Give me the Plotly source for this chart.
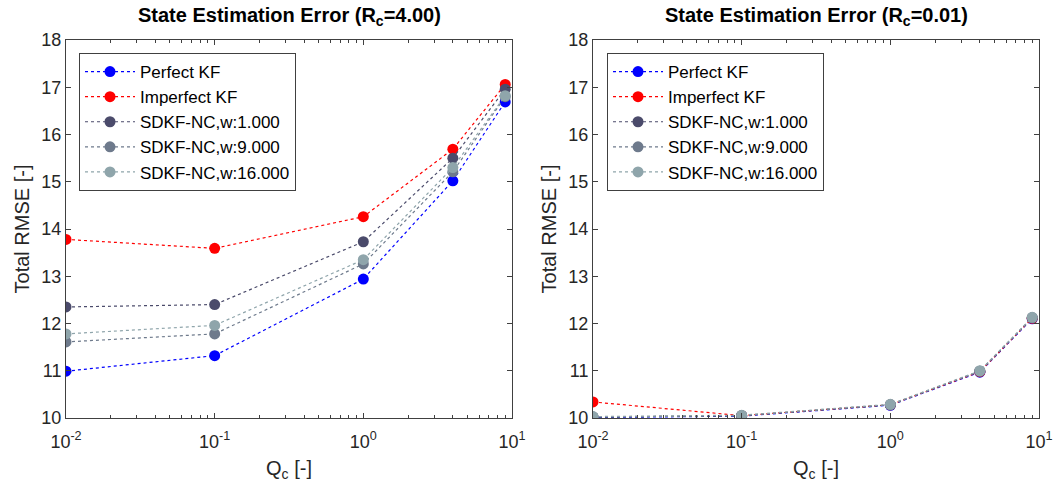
import plotly.graph_objects as go

qc = [0.01, 0.1, 1, 4, 9]

series_names = ["Perfect KF", "Imperfect KF", "SDKF-NC,w:1.000", "SDKF-NC,w:9.000", "SDKF-NC,w:16.000"]
series_colors = ["#0000ff", "#ff0000", "#4b4b6b", "#6e7a8c", "#8fa5ab"]

# Rc = 4.00
left_perfect = [10.99, 11.32, 12.94, 15.02, 16.69]
left_imperfect = [13.78, 13.59, 14.26, 15.69, 17.06]
left_w1 = [12.35, 12.40, 13.73, 15.50, 16.96]
left_w9 = [11.61, 11.78, 13.26, 15.21, 16.80]
left_w16 = [11.78, 11.96, 13.35, 15.30, 16.82]

# Rc = 0.01
right_perfect = [10.01, 10.04, 10.27, 10.97, 12.10]
right_imperfect = [10.34, 10.05, 10.28, 10.98, 12.11]
right_w1 = [10.02, 10.05, 10.28, 10.99, 12.12]
right_w9 = [10.02, 10.05, 10.28, 10.99, 12.12]
right_w16 = [10.03, 10.06, 10.29, 11.00, 12.13]

yticks = [10, 11, 12, 13, 14, 15, 16, 17, 18]
xtickvals = [0.01, 0.1, 1, 10]
xticktext = ["10<sup>-2</sup>", "10<sup>-1</sup>", "10<sup>0</sup>", "10<sup>1</sup>"]
xminor = [k * d for d in (0.01, 0.1, 1) for k in range(2, 10)]

titles = ["<b>State Estimation Error (R<sub>c</sub>=4.00)</b>",
          "<b>State Estimation Error (R<sub>c</sub>=0.01)</b>"]

left = [left_perfect, left_imperfect, left_w1, left_w9, left_w16]
right = [right_perfect, right_imperfect, right_w1, right_w9, right_w16]

FONT = "Liberation Sans, Arial, Helvetica, sans-serif"
fig = go.Figure()

for i, (name, col) in enumerate(zip(series_names, series_colors)):
    fig.add_trace(go.Scatter(x=qc, y=left[i], mode="lines+markers", name=name,
                             line=dict(color=col, width=1.2, dash="dot"),
                             marker=dict(color=col, size=11),
                             xaxis="x", yaxis="y", legend="legend"))
for i, (name, col) in enumerate(zip(series_names, series_colors)):
    fig.add_trace(go.Scatter(x=qc, y=right[i], mode="lines+markers", name=name,
                             line=dict(color=col, width=1.2, dash="dot"),
                             marker=dict(color=col, size=11),
                             xaxis="x2", yaxis="y2", legend="legend2"))

axis_common = dict(showline=True, linecolor="#404040", linewidth=1, mirror="ticks",
                   ticks="inside", ticklen=5, tickcolor="#404040", showgrid=False,
                   zeroline=False, automargin=False,
                   tickfont=dict(family=FONT, size=18, color="#262626"))

xax = dict(type="log", range=[-2, 1], tickvals=xtickvals, ticktext=xticktext,
           ticklabelstandoff=7,
           minor=dict(ticks="inside", ticklen=3, tickcolor="#404040", tickvals=xminor, showgrid=False),
           title=dict(text="Q<sub>c</sub> [-]", font=dict(family=FONT, size=20, color="#262626"), standoff=10),
           **axis_common)
yax = dict(range=[10, 18], tickvals=yticks,
           title=dict(text="Total RMSE [-]", font=dict(family=FONT, size=20, color="#262626"), standoff=6),
           **axis_common)

lx0, lx1 = 66 / 1055, 512 / 1055
rx0, rx1 = 593 / 1055, 1039 / 1055
yb, yt = 1 - 418 / 492, 1 - 40 / 492

legend_common = dict(bgcolor="white", bordercolor="#404040", borderwidth=1,
                     font=dict(family=FONT, size=17, color="black"),
                     xanchor="left", yanchor="top", itemwidth=50, tracegroupgap=0)

fig.update_layout(
    width=1055, height=492,
    margin=dict(l=0, r=0, t=0, b=0),
    paper_bgcolor="white", plot_bgcolor="white",
    xaxis=dict(domain=[lx0, lx1], anchor="y", **xax),
    yaxis=dict(domain=[yb, yt], anchor="x", **yax),
    xaxis2=dict(domain=[rx0, rx1], anchor="y2", **xax),
    yaxis2=dict(domain=[yb, yt], anchor="x2", **yax),
    legend=dict(x=79 / 1055, y=1 - 53 / 492, **legend_common),
    legend2=dict(x=607 / 1055, y=1 - 53 / 492, **legend_common),
    annotations=[
        dict(text=titles[0], x=(lx0 + lx1) / 2, y=1 - 17 / 492, xref="paper", yref="paper",
             showarrow=False, font=dict(family=FONT, size=20, color="black"), xanchor="center", yanchor="middle"),
        dict(text=titles[1], x=(rx0 + rx1) / 2, y=1 - 17 / 492, xref="paper", yref="paper",
             showarrow=False, font=dict(family=FONT, size=20, color="black"), xanchor="center", yanchor="middle"),
    ],
)

fig.write_html("out.html")
